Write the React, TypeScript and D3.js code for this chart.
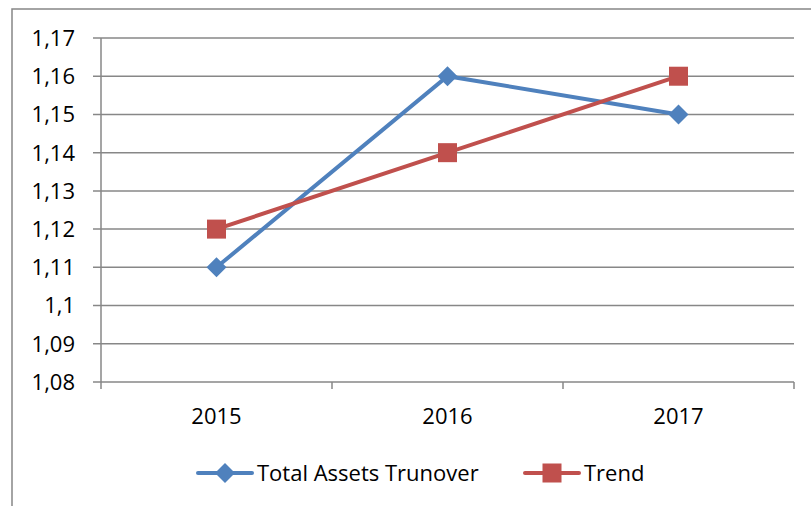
import React from 'react'
import * as d3 from 'd3'

const years = ['2015', '2016', '2017']
const turnover = [1.11, 1.16, 1.15]
const trend = [1.12, 1.14, 1.16]
const yTicks = [1.08, 1.09, 1.1, 1.11, 1.12, 1.13, 1.14, 1.15, 1.16, 1.17]

const W = 811, H = 506
const plot = { left: 101, right: 794, top: 38, bottom: 382 }
const blue = '#4F81BD', red = '#C0504D', grid = '#878787'
const font = '"Open Sans", Lato, sans-serif'
const fs = 22

const fmt = (v: number) => String(+v.toFixed(2)).replace('.', ',')

const App = () => {
  const x = d3.scaleBand().domain(years).range([plot.left, plot.right])
  const y = d3.scaleLinear().domain([1.08, 1.17]).range([plot.bottom, plot.top])
  const cx = (d: string) => (x(d) as number) + x.bandwidth() / 2

  const line = d3.line<number>()
    .x((d, i) => cx(years[i]))
    .y(d => y(d))

  const diamond = (px: number, py: number, r: number) =>
    `M${px},${py - r}L${px + r},${py}L${px},${py + r}L${px - r},${py}Z`

  const bandEdges = years.map(d => x(d) as number).concat(plot.right)

  return (
    <div style={{ position: 'fixed', left: 0, top: 0 }}>
      <svg width={W} height={H} style={{ display: 'block', background: '#fff' }}>
        <rect x={12} y={9} width={W + 20} height={H + 20} fill="#fff" stroke="#868686" strokeWidth={1.5} />
        {yTicks.map(t => (
          <g key={t}>
            <line x1={plot.left - 8} x2={plot.right} y1={y(t)} y2={y(t)} stroke={grid} strokeWidth={1.5} />
            <text x={75} y={y(t)} dy="0.36em" textAnchor="end" fontFamily={font} fontSize={fs} fill="#000">{fmt(t)}</text>
          </g>
        ))}
        <line x1={plot.left} x2={plot.left} y1={plot.top} y2={plot.bottom + 7} stroke={grid} strokeWidth={1.5} />
        {bandEdges.slice(1).map((e, i) => (
          <line key={i} x1={e} x2={e} y1={plot.bottom} y2={plot.bottom + 7} stroke={grid} strokeWidth={1.5} />
        ))}
        {years.map(d => (
          <text key={d} x={cx(d)} y={424} textAnchor="middle" fontFamily={font} fontSize={fs} fill="#000">{d}</text>
        ))}

        <path d={line(turnover) || ''} fill="none" stroke={blue} strokeWidth={4} />
        {turnover.map((v, i) => (
          <path key={i} d={diamond(cx(years[i]), y(v), 10)} fill={blue} />
        ))}
        <path d={line(trend) || ''} fill="none" stroke={red} strokeWidth={4} />
        {trend.map((v, i) => (
          <rect key={i} x={cx(years[i]) - 9.5} y={y(v) - 9.5} width={19} height={19} fill={red} />
        ))}

        <g>
          <line x1={198} x2={252} y1={473} y2={473} stroke={blue} strokeWidth={4} strokeLinecap="round" />
          <path d={diamond(225, 473, 10)} fill={blue} />
          <text x={257} y={473} dy="0.36em" fontFamily={font} fontSize={fs} fill="#000">Total Assets Trunover</text>
          <line x1={525} x2={579} y1={473} y2={473} stroke={red} strokeWidth={4} strokeLinecap="round" />
          <rect x={542.5} y={463.5} width={19} height={19} fill={red} />
          <text x={584} y={473} dy="0.36em" fontFamily={font} fontSize={fs} fill="#000">Trend</text>
        </g>
      </svg>
    </div>
  )
}

export default App
